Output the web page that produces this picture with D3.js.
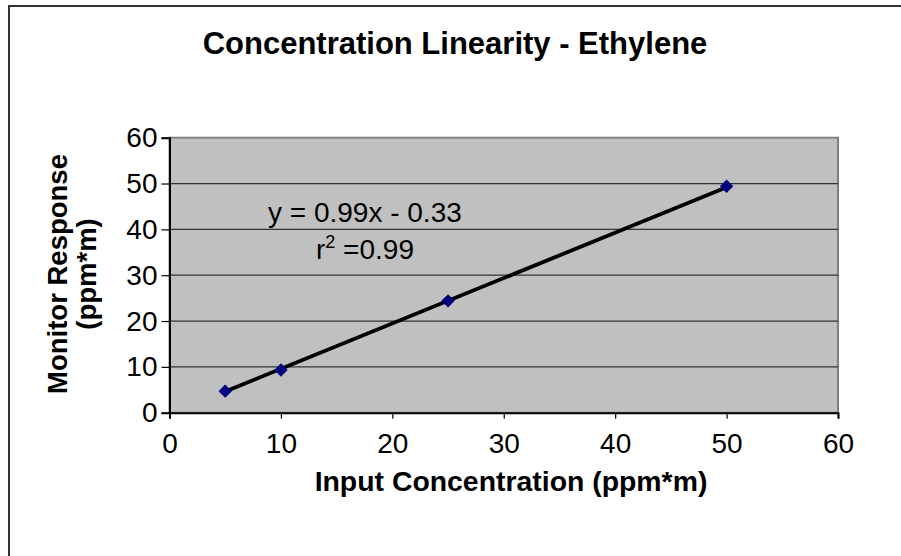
<!DOCTYPE html>
<html><head><meta charset="utf-8">
<script src="https://cdn.jsdelivr.net/npm/d3@7"></script>
<style>body{margin:0;background:#fff}svg{display:block}</style>
</head><body>
<svg id="c" width="901" height="556"></svg>
<script>
const title = "Concentration Linearity - Ethylene";
const xLabel = "Input Concentration (ppm*m)";
const yLabel = ["Monitor Response", "(ppm*m)"];
const xInput = [5, 10, 25, 50];
const yResponse = [4.7, 9.3, 24.4, 49.4];
const xTicks = [0, 10, 20, 30, 40, 50, 60];
const yTicks = [0, 10, 20, 30, 40, 50, 60];
const slope = 0.99, intercept = -0.33;
const eqText = "y = 0.99x - 0.33";
const r2Text = "0.99";

const svg = d3.select("#c");
const F = "'Liberation Sans', Arial, sans-serif";
const L = 169.5, R = 838, T = 137.7, B = 412.7;
const x = d3.scaleLinear().domain([0, 60]).range([L, R]);
const y = d3.scaleLinear().domain([0, 60]).range([B, T]);

svg.append("rect").attr("x", 9).attr("y", 6).attr("width", 1000).attr("height", 1000)
  .attr("fill", "#fff").attr("stroke", "#333").attr("stroke-width", 2);

svg.append("rect").attr("x", L).attr("y", T).attr("width", R - L).attr("height", B - T)
  .attr("fill", "#c0c0c0").attr("stroke", "#808080").attr("stroke-width", 2);

svg.append("g").selectAll("line").data(yTicks.slice(1, -1)).join("line")
  .attr("x1", L).attr("x2", R).attr("y1", d => y(d)).attr("y2", d => y(d))
  .attr("stroke", "#333").attr("stroke-width", 1.2);

const xa = svg.append("g").attr("transform", `translate(0,${B})`)
  .call(d3.axisBottom(x).tickValues(xTicks).tickSize(6).tickPadding(14).tickFormat(d3.format("d")));
const ya = svg.append("g").attr("transform", `translate(${L},0)`)
  .call(d3.axisLeft(y).tickValues(yTicks).tickSize(8).tickPadding(4).tickFormat(d3.format("d")));
[xa, ya].forEach(a => {
  a.select(".domain").attr("stroke", "#000").attr("stroke-width", 2);
  a.selectAll(".tick line").attr("stroke", "#000").attr("stroke-width", 1.2);
  a.selectAll("text").attr("font-family", F).attr("font-size", 28).attr("fill", "#000");
});

const line = d3.line().x(d => x(d)).y(d => y(slope * d + intercept));
svg.append("path").attr("d", line([d3.min(xInput), d3.max(xInput)]))
  .attr("stroke", "#000").attr("stroke-width", 3.8).attr("fill", "none");

svg.append("g").selectAll("path").data(xInput).join("path")
  .attr("transform", (d, i) => `translate(${x(d)},${y(yResponse[i])}) rotate(45)`)
  .attr("d", d3.symbol().type(d3.symbolSquare).size(90))
  .attr("fill", "#000080");

svg.append("text").attr("x", 455).attr("y", 54).attr("text-anchor", "middle")
  .attr("font-family", F).attr("font-weight", "bold").attr("font-size", 31).text(title);

svg.append("text").attr("x", 511).attr("y", 491).attr("text-anchor", "middle")
  .attr("font-family", F).attr("font-weight", "bold").attr("font-size", 28.4).text(xLabel);

const yl = svg.append("text").attr("transform", "translate(67,274) rotate(-90)")
  .attr("text-anchor", "middle").attr("font-family", F).attr("font-weight", "bold").attr("font-size", 27.5);
yl.append("tspan").attr("x", 0).attr("y", 0).text(yLabel[0]);
yl.append("tspan").attr("x", 0).attr("y", 29).text(yLabel[1]);

svg.append("text").attr("x", 268).attr("y", 222).attr("font-family", F).attr("font-size", 28).text(eqText);
const r2 = svg.append("text").attr("x", 316).attr("y", 259).attr("font-family", F).attr("font-size", 28);
r2.append("tspan").text("r");
r2.append("tspan").attr("dy", -11).attr("font-size", 18).text("2");
r2.append("tspan").attr("dy", 11).text(" =" + r2Text);
</script>
</body></html>
